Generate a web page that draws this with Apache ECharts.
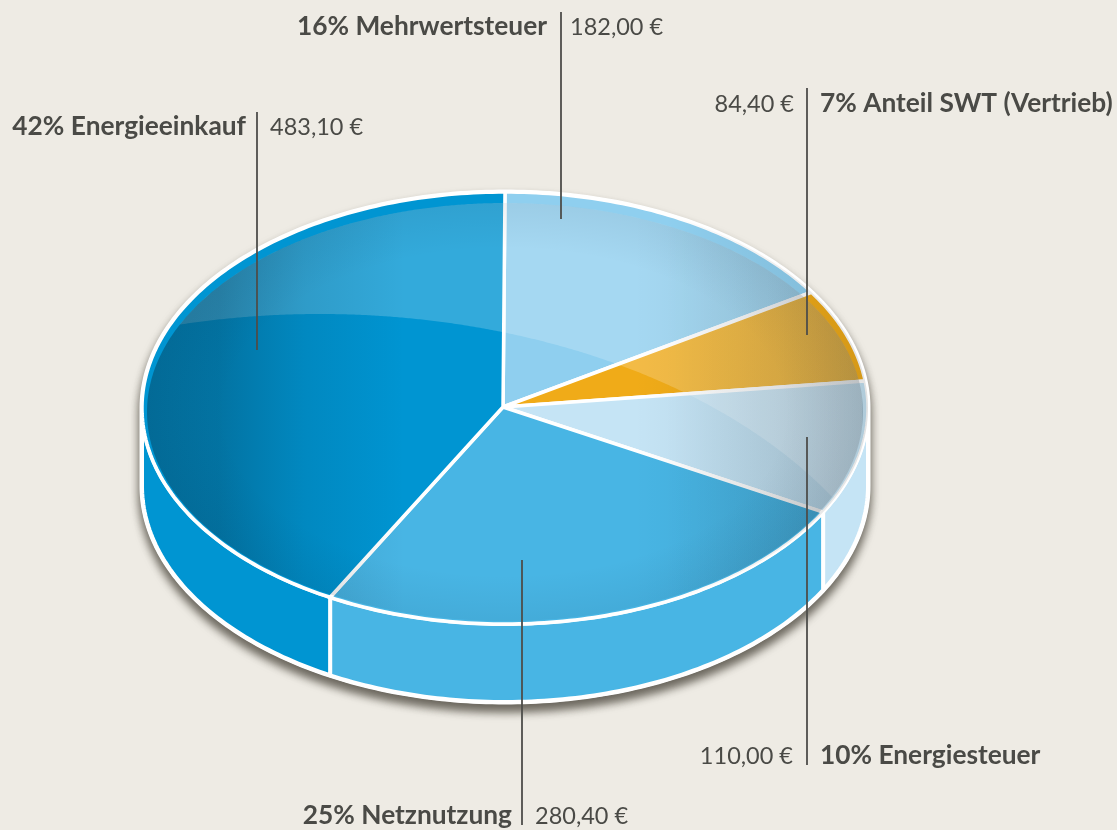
<!DOCTYPE html>
<html>
<head>
<meta charset="utf-8">
<style>
  html, body { margin: 0; padding: 0; background: #eeebe4; }
  #chart { width: 1117px; height: 830px; }
</style>
<script src="https://cdn.jsdelivr.net/npm/echarts@6/dist/echarts.min.js"></script>
</head>
<body>
<div id="chart"></div>
<script>
// Werte aus dem Bild, im Uhrzeigersinn ab 12 Uhr
const names = ['Mehrwertsteuer', 'Anteil SWT (Vertrieb)', 'Energiesteuer', 'Netznutzung', 'Energieeinkauf']
const shares = [16, 7, 10, 25, 42]
const euros = [182.00, 84.40, 110.00, 280.40, 483.10]
const colors = ['#8fcfef', '#f0ab18', '#c5e4f5', '#48b5e4', '#0095d2']

// Geometrie der Scheibe
const apex = [503, 407]
const outer = { cx: 505, cy: 408, rx: 363, ry: 216 }
const inner = { cx: 505, cy: 412, rx: 358, ry: 209 }
const depth = 78
const textColor = '#4a4a46'

function pt(deg, e, dy) {
  const a = deg * Math.PI / 180
  return [e.cx + e.rx * Math.sin(a), e.cy - e.ry * Math.cos(a) + (dy || 0)]
}

function arc(from, to, e, dy) {
  const pts = []
  const steps = Math.max(2, Math.ceil(Math.abs(to - from)))
  for (let i = 0; i <= steps; i++) pts.push(pt(from + (to - from) * i / steps, e, dy))
  return pts
}

function startOf(i) {
  const total = shares.reduce((a, b) => a + b, 0)
  return shares.slice(0, i).reduce((a, b) => a + b, 0) / total * 360
}

function sliceAngles(i, value) {
  const total = shares.reduce((a, b) => a + b, 0)
  const a = startOf(i)
  return [a, a + value / total * 360]
}

// Seitenwand + Schatten
function renderWall(params, api) {
  const [a, b] = sliceAngles(params.dataIndex, api.value(0))
  const from = Math.max(a, 90), to = Math.min(b, 270)
  if (from >= to) return { type: 'group', children: [] }
  const pts = arc(from, to, outer).concat(arc(to, from, outer, depth))
  return {
    type: 'polygon',
    shape: { points: pts },
    style: { fill: colors[params.dataIndex], stroke: '#fff', lineWidth: 4, lineJoin: 'round' }
  }
}

function renderBase() {
  const pts = arc(90, 270, outer, depth).concat(arc(270, 450, outer))
  return {
    type: 'polygon',
    shape: { points: pts },
    style: {
      fill: '#fff', stroke: '#fff', lineWidth: 5, lineJoin: 'round',
      shadowBlur: 10, shadowOffsetY: 7, shadowColor: 'rgba(35,30,20,0.65)'
    }
  }
}

function renderTop(params, api) {
  const [a, b] = sliceAngles(params.dataIndex, api.value(0))
  const pts = [apex].concat(arc(a, b, outer))
  return {
    type: 'polygon',
    shape: { points: pts },
    style: { fill: colors[params.dataIndex], stroke: '#fff', lineWidth: 3.5, lineJoin: 'round' }
  }
}

// Glanz oben: Innenellipse oberhalb eines grossen Bogens
function glossPoints() {
  const big = { cx: 320, cy: 696, rx: 600, ry: 382 }
  const topEdge = [], lowEdge = []
  for (let x = inner.cx - inner.rx + 1; x <= inner.cx + inner.rx - 1; x += 2) {
    const t = Math.sqrt(1 - Math.pow((x - inner.cx) / inner.rx, 2))
    const y1 = inner.cy - inner.ry * t
    const y2 = inner.cy + inner.ry * t
    const dx = (x - big.cx) / big.rx
    const yb = Math.abs(dx) < 1 ? big.cy - big.ry * Math.sqrt(1 - dx * dx) : y2
    const low = Math.min(yb, y2)
    if (low > y1) { topEdge.push([x, y1]); lowEdge.unshift([x, low]) }
  }
  return topEdge.concat(lowEdge)
}

function renderGlass() {
  const children = []
  // Rand rechts dunkler
  children.push({
    type: 'polygon',
    shape: { points: arc(0, 360, outer) },
    style: {
      fill: new echarts.graphic.LinearGradient(0, 0, 1, 0, [
        { offset: 0, color: 'rgba(0,0,0,0)' },
        { offset: 0.72, color: 'rgba(0,0,0,0)' },
        { offset: 1, color: 'rgba(20,20,20,0.12)' }
      ])
    }
  })
  children.push({
    type: 'polygon',
    shape: { points: glossPoints() },
    style: { fill: 'rgba(255,255,255,0.2)' }
  })
  children.push({
    type: 'polygon',
    shape: { points: arc(0, 360, inner) },
    style: {
      fill: new echarts.graphic.LinearGradient(0, 0, 1, 0, [
        { offset: 0, color: 'rgba(10,25,35,0.3)' },
        { offset: 0.1, color: 'rgba(10,25,35,0.27)' },
        { offset: 0.22, color: 'rgba(10,25,35,0.1)' },
        { offset: 0.36, color: 'rgba(10,25,35,0)' },
        { offset: 0.68, color: 'rgba(10,25,35,0)' },
        { offset: 0.88, color: 'rgba(10,25,35,0.08)' },
        { offset: 1, color: 'rgba(10,25,35,0.14)' }
      ])
    }
  })
  children.push({
    type: 'circle',
    x: inner.cx, y: inner.cy, scaleY: inner.ry / inner.rx,
    shape: { cx: 0, cy: 0, r: inner.rx },
    style: {
      fill: new echarts.graphic.RadialGradient(0.5, 0.5, 0.5, [
        { offset: 0, color: 'rgba(0,20,40,0)' },
        { offset: 0.78, color: 'rgba(0,20,40,0)' },
        { offset: 1, color: 'rgba(0,20,40,0.06)' }
      ])
    }
  })
  return { type: 'group', children }
}

// Beschriftung: Linie, Name links oder rechts davon
const labelLayout = [
  { lineX: 561, y1: 12, y2: 219, textY: 27, nameLeft: true, nameGap: 14, euroGap: 9 },
  { lineX: 807, y1: 88, y2: 335, textY: 104, nameLeft: false, nameGap: 13, euroGap: 13 },
  { lineX: 807, y1: 437, y2: 765, textY: 756, nameLeft: false, nameGap: 13, euroGap: 14 },
  { lineX: 522, y1: 560, y2: 825, textY: 816, nameLeft: true, nameGap: 10, euroGap: 13 },
  { lineX: 257, y1: 112, y2: 350, textY: 127, nameLeft: true, nameGap: 11, euroGap: 13 }
]

const graphics = []
const fontFamily = 'Lato, sans-serif'
labelLayout.forEach((l, i) => {
  const nameText = shares[i] + '% ' + names[i]
  const euroText = euros[i].toFixed(2).replace('.', ',') + ' €'
  graphics.push({
    type: 'line', z: 100,
    shape: { x1: l.lineX, y1: l.y1, x2: l.lineX, y2: l.y2 },
    style: { stroke: '#4d4d4a', lineWidth: 1.8 }
  })
  graphics.push({
    type: 'text', z: 100,
    x: l.nameLeft ? l.lineX - l.nameGap : l.lineX + l.nameGap, y: l.textY,
    style: {
      text: nameText, fill: textColor, font: 'bold 26.3px ' + fontFamily,
      textAlign: l.nameLeft ? 'right' : 'left', textVerticalAlign: 'middle'
    }
  })
  graphics.push({
    type: 'text', z: 100,
    x: l.nameLeft ? l.lineX + l.euroGap : l.lineX - l.euroGap, y: l.textY,
    style: {
      text: euroText, fill: textColor, font: '23.5px ' + fontFamily,
      textAlign: l.nameLeft ? 'left' : 'right', textVerticalAlign: 'middle'
    }
  })
})

const myChart = echarts.init(document.getElementById('chart'), null, { renderer: 'canvas' })
const seriesData = shares.map((v, i) => ({ name: names[i], value: [v] }))

myChart.setOption({
  backgroundColor: '#eeebe4',
  animation: false,
  graphic: graphics,
  series: [
    { type: 'custom', coordinateSystem: 'none', silent: true, renderItem: renderBase, data: [[1]], z: 1 },
    { type: 'custom', coordinateSystem: 'none', silent: true, renderItem: renderWall, data: seriesData, z: 2 },
    { type: 'custom', coordinateSystem: 'none', silent: true, renderItem: renderTop, data: seriesData, z: 3 },
    { type: 'custom', coordinateSystem: 'none', silent: true, renderItem: renderGlass, data: [[1]], z: 4 }
  ]
})
</script>
</body>
</html>
